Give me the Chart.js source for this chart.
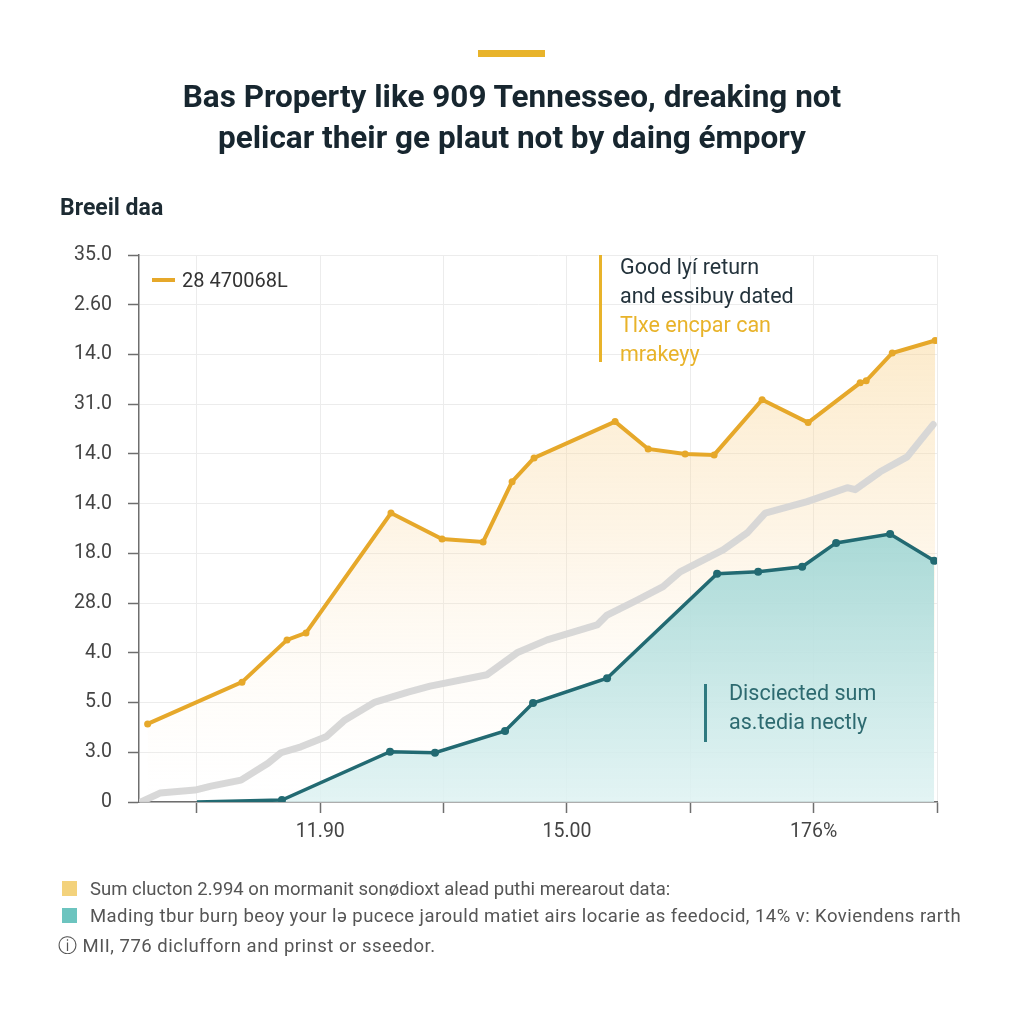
<!DOCTYPE html>
<html>
<head>
<meta charset="utf-8">
<script src="https://cdn.jsdelivr.net/npm/chart.js@4.4.1/dist/chart.umd.min.js"></script>
<style>
  html, body { margin: 0; padding: 0; background: #ffffff; }
  #wrap { position: relative; width: 1024px; height: 1024px; overflow: hidden; font-family: "Roboto", "Inter", sans-serif; }
  canvas { position: absolute; left: 0; top: 0; }
  .abs { position: absolute; white-space: nowrap; }
  #topbar { left: 478px; top: 50px; width: 67px; height: 7px; background: #e8b32a; }
  .title { left: 0; width: 1024px; text-align: center; font-weight: 700; font-size: 31.5px; line-height: 36px; color: #17262f; letter-spacing: 0px; }
  #sub { left: 60px; top: 195px; font-weight: 700; font-size: 23px; line-height: 26px; color: #1d2b33; }
  #leg { left: 152px; top: 268px; font-size: 20px; line-height: 24px; color: #333; }
  #leg span.sw { display: inline-block; width: 23px; height: 4px; background: #e6a82a; vertical-align: middle; margin-right: 7px; position: relative; top: -2px; }
  .ann { font-size: 21.5px; line-height: 29px; }
  .vline { position: absolute; width: 3px; }
  .note { font-size: 18.5px; line-height: 22px; color: #555; }
  .sq { position: absolute; width: 15px; height: 15px; }
</style>
</head>
<body>
<div id="wrap">
  <canvas id="c" width="1024" height="1024"></canvas>
  <div id="topbar" class="abs"></div>
  <div class="abs title" style="top:79px;">Bas Property like 909 Tennesseo, dreaking not</div>
  <div class="abs title" style="top:120px;">pelicar their ge plaut not by daing émpory</div>
  <div id="sub" class="abs">Breeil daa</div>
  <div id="leg" class="abs"><span class="sw"></span>28 470068L</div>

  <div class="vline" style="left:599px; top:255px; height:107px; background:#e8b32a;"></div>
  <div class="abs ann" style="left:620px; top:252px; color:#24333c;">Good lyí return<br>and essibuy dated</div>
  <div class="abs ann" style="left:620px; top:310px; color:#e8b32a;">Tlxe encpar can<br>mrakeyy</div>

  <div class="vline" style="left:704px; top:684px; height:58px; background:#2f7a80;"></div>
  <div class="abs ann" style="left:729px; top:678px; color:#2d6a70;">Disciected sum<br>as.tedia nectly</div>

  <div class="sq" style="left:62px; top:881px; background:#f3d27c;"></div>
  <div class="abs note" style="left:90px; top:878px;">Sum clucton 2.994 on mormanit sonødioxt alead puthi merearout data:</div>
  <div class="sq" style="left:62px; top:908px; background:#6cc4bf;"></div>
  <div class="abs note" style="left:90px; top:905px; letter-spacing:0.45px;">Mading tbur burŋ beoy your lə pucece jarould matiet airs locarie as feedocid, 14%  v: Koviendens rarth</div>
  <div class="abs note" style="left:58px; top:935px; letter-spacing:0.5px;">ⓘ MII, 776 diclufforn and prinst or sseedor.</div>
</div>
<script>
// ---- data ----
const yTickLabels = ['0','3.0','5.0','4.0','28.0','18.0','14.0','14.0','31.0','14.0','2.60','35.0'];
const xTickLabels = ['', '11.90', '', '15.00', '', '176%', ''];

const yellowX = [-0.40, 0.365, 0.73, 0.884, 1.573, 1.987, 2.320, 2.555, 2.733, 3.390, 3.658, 3.958, 4.193, 4.582, 4.955, 5.377, 5.426, 5.637, 5.985];
const yellowY = [1.57, 2.41, 3.26, 3.40, 5.81, 5.29, 5.23, 6.44, 6.92, 7.65, 7.10, 7.00, 6.98, 8.09, 7.63, 8.43, 8.47, 9.03, 9.28];

const tealX = [0.0, 0.689, 1.565, 1.930, 2.498, 2.725, 3.325, 4.217, 4.550, 4.907, 5.182, 5.620, 5.977];
const tealY = [0.00, 0.04, 1.01, 0.99, 1.43, 1.99, 2.49, 4.59, 4.63, 4.73, 5.21, 5.39, 4.85];

const greyX = [-0.454, -0.300, -0.016, 0.114, 0.357, 0.576, 0.681, 0.843, 1.046, 1.200, 1.444, 1.711, 1.890, 2.352, 2.595, 2.839, 3.244, 3.325, 3.569, 3.779, 3.917, 4.266, 4.461, 4.607, 4.947, 5.272, 5.337, 5.539, 5.758, 5.969];
const greyY = [0.00, 0.18, 0.24, 0.32, 0.44, 0.78, 0.99, 1.11, 1.31, 1.65, 2.01, 2.21, 2.33, 2.56, 3.00, 3.26, 3.56, 3.76, 4.06, 4.33, 4.63, 5.07, 5.41, 5.81, 6.04, 6.32, 6.28, 6.64, 6.94, 7.59];

const zip = (xs, ys) => xs.map((x, i) => ({ x: x, y: ys[i] }));

function yellowFill(ctx) {
  const a = ctx.chart.chartArea;
  if (!a) return 'rgba(0,0,0,0)';
  const g = ctx.chart.ctx.createLinearGradient(0, a.top, 0, a.bottom);
  g.addColorStop(0, 'rgba(248,205,125,0.50)');
  g.addColorStop(0.5, 'rgba(250,220,170,0.30)');
  g.addColorStop(1, 'rgba(255,245,230,0.0)');
  return g;
}
function tealFill(ctx) {
  const a = ctx.chart.chartArea;
  if (!a) return 'rgba(0,0,0,0)';
  const g = ctx.chart.ctx.createLinearGradient(0, a.top + 270, 0, a.bottom);
  g.addColorStop(0, 'rgba(160,214,212,0.92)');
  g.addColorStop(1, 'rgba(222,242,242,0.85)');
  return g;
}

const gridColor = '#ececec';
const axisColor = '#6e6e6e';

new Chart(document.getElementById('c'), {
  type: 'line',
  data: {
    datasets: [
      {
        label: 'teal', data: zip(tealX, tealY), order: 1,
        borderColor: '#226a72', borderWidth: 3.5, fill: 'origin', backgroundColor: tealFill,
        pointRadius: (c) => c.dataIndex === 0 ? 0 : 4, pointBackgroundColor: '#226a72', pointBorderWidth: 0,
        tension: 0
      },
      {
        label: 'grey', data: zip(greyX, greyY), order: 2,
        borderColor: 'rgba(214,214,214,0.95)', borderWidth: 7, fill: false,
        pointRadius: 0, tension: 0, borderCapStyle: 'round', borderJoinStyle: 'round'
      },
      {
        label: 'yellow', data: zip(yellowX, yellowY), order: 3,
        borderColor: '#e6a82a', borderWidth: 4, fill: 'origin', backgroundColor: yellowFill,
        pointRadius: 3.5, pointBackgroundColor: '#e6a82a', pointBorderWidth: 0,
        tension: 0
      }
    ]
  },
  options: {
    responsive: false,
    animation: false,
    devicePixelRatio: 1,
    layout: { padding: { left: 0, top: 255, right: 87, bottom: 162 } },
    plugins: { legend: { display: false }, tooltip: { enabled: false } },
    scales: {
      x: {
        type: 'linear', min: -0.47, max: 6,
        afterBuildTicks: (s) => { s.ticks = [0,1,2,3,4,5,6].map(v => ({ value: v })); },
        afterFit: (s) => { s.height = 60; },
        ticks: {
          callback: (v) => xTickLabels[Math.round(v)] || '',
          color: '#444', font: { family: 'Roboto', size: 19.5 }, padding: 7, maxRotation: 0, autoSkip: false
        },
        grid: { color: gridColor, lineWidth: 1, tickLength: 11, tickColor: axisColor, tickWidth: 1.5 },
        border: { color: axisColor, width: 1.5 }
      },
      y: {
        type: 'linear', min: 0, max: 11,
        afterBuildTicks: (s) => { s.ticks = [0,1,2,3,4,5,6,7,8,9,10,11].map(v => ({ value: v })); },
        afterFit: (s) => { s.width = 139; },
        ticks: {
          callback: (v) => yTickLabels[Math.round(v)],
          color: '#444', font: { family: 'Roboto', size: 19.5 }, padding: 16
        },
        grid: { color: gridColor, lineWidth: 1, tickLength: 11, tickColor: axisColor, tickWidth: 1.5 },
        border: { color: axisColor, width: 1.5 }
      }
    }
  }
});
</script>
</body>
</html>
